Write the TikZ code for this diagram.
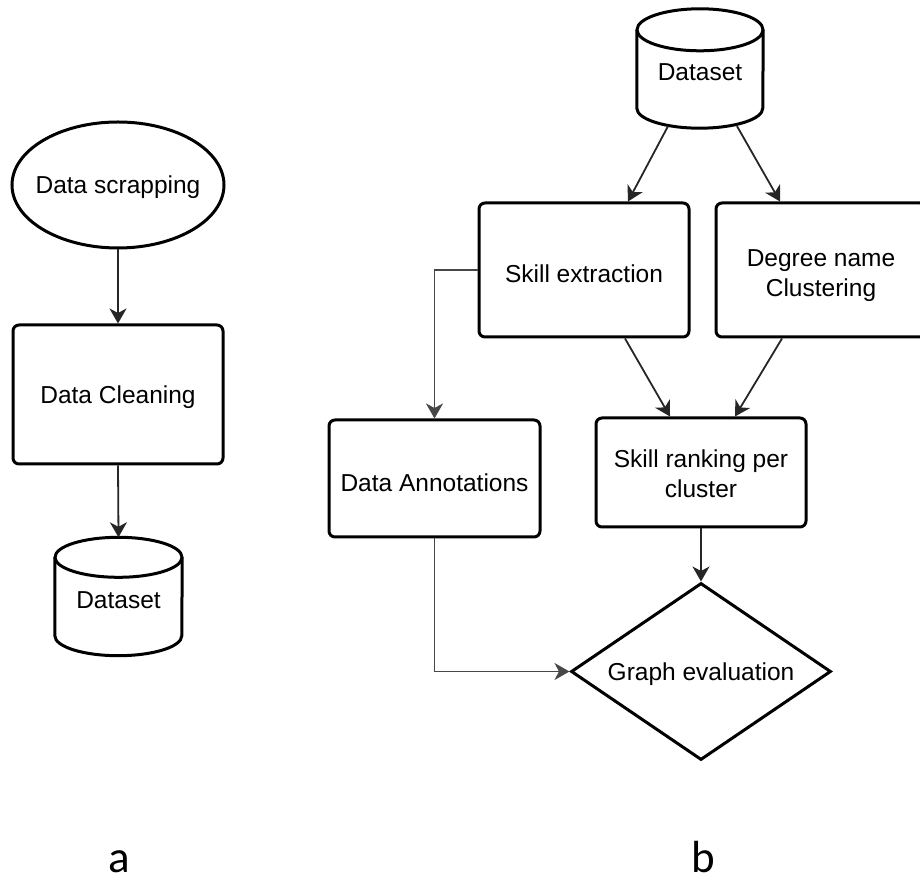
\documentclass[tikz,border=0pt]{standalone}
\usepackage{fontspec}
\setmainfont{Liberation Sans}
\newfontfamily\labelfont{Carlito}
\usetikzlibrary{shapes.geometric,arrows.meta,calc}
\newcommand{\lowertext}[2]{\raisebox{-#1}[\height][\depth]{#2}}
\begin{document}
\begin{tikzpicture}[x=1pt,y=1pt,
  every node/.style={font=\fontsize{24.5}{30}\selectfont, align=center, inner sep=0pt},
  oneline/.style={text height=17.5pt, text depth=0pt},
  stepbox/.style={draw, line width=3pt, rounded corners=6pt, minimum width=210pt},
  ovalbox/.style={draw, ellipse, line width=3pt, minimum width=212pt, minimum height=126pt},
  decision/.style={draw, diamond, line width=3pt, minimum width=260pt, minimum height=177pt},
  dbnode/.style={minimum width=127pt, minimum height=118pt},
  dbline/.style={line width=3pt},
  link/.style={draw=black!85, line width=1.8pt, -{Stealth[length=15pt,width=17pt,inset=4.5pt]}},
  caption/.style={font=\labelfont\fontsize{45}{50}\selectfont, anchor=base, text depth=0pt},
]
\useasboundingbox (0,0) rectangle (920,878);

% ---------- part a ----------
\node[ovalbox, oneline] (scrap) at (118,693) {\makebox[0pt]{Data scrapping}};
\node[stepbox, oneline, minimum height=139pt] (clean) at (118,483.5) {Data Cleaning};
\node[dbnode, oneline] (ds1) at (118.5,281.5) {\lowertext{3.5pt}{Dataset}};
\draw[dbline] ($(ds1.north west)+(0,-20)$) -- ($(ds1.south west)+(0,20)$)
  arc[start angle=180, end angle=360, x radius=63.5, y radius=20]
  -- ($(ds1.north east)+(0,-20)$);
\draw[dbline] ($(ds1.north)+(0,-20)$) ellipse [x radius=63.5, y radius=20];

\draw[link] (scrap.south) -- (clean.north);
\draw[link] (clean.south) -- (ds1.north);

% ---------- part b ----------
\node[dbnode, oneline, minimum width=126pt, minimum height=119pt] (ds2) at (700,809.5) {\lowertext{3.5pt}{Dataset}};
\draw[dbline] ($(ds2.north west)+(0,-21)$) -- ($(ds2.south west)+(0,20)$)
  arc[start angle=180, end angle=360, x radius=63, y radius=20]
  -- ($(ds2.north east)+(0,-21)$);
\draw[dbline] ($(ds2.north)+(0,-21)$) ellipse [x radius=63, y radius=21];

\node[stepbox, oneline, minimum height=134pt] (skill) at (584,608) {\lowertext{4pt}{Skill extraction}};
\node[stepbox, minimum height=134pt] (degree) at (821,608)
  {\lowertext{6pt}{\begin{tabular}{@{}c@{}}Degree name\\Clustering\end{tabular}}};
\node[stepbox, oneline, minimum width=211pt, minimum height=117pt] (annot) at (434.5,399.5) {\lowertext{4pt}{Data Annotations}};
\node[stepbox, minimum height=109pt] (rank) at (701,405.5)
  {\lowertext{4.5pt}{\begin{tabular}{@{}c@{}}Skill ranking per\\cluster\end{tabular}}};
\node[decision, oneline] (graph) at (701,206.5) {\makebox[0pt]{Graph evaluation}};

\draw[link] ($(ds2.south)+(-32,2)$) -- ($(skill.north)+(44,0)$);
\draw[link] ($(ds2.south)+(37,2)$) -- ($(degree.north)+(-41,0)$);
\draw[link] ($(skill.south)+(41,0)$) -- ($(rank.north)+(-31,0)$);
\draw[link] ($(degree.south)+(-39,0)$) -- ($(rank.north)+(34,0)$);
\draw[link] (rank.south) -- (graph.north);
\draw[link, draw=black!72] (skill.west) -| (annot.north);
\draw[link, draw=black!72] (annot.south) |- (graph.west);

% ---------- captions ----------
\node[caption] (capa) at (119,6) {a};
\node[caption] (capb) at (703,6) {b};
\end{tikzpicture}
\end{document}
